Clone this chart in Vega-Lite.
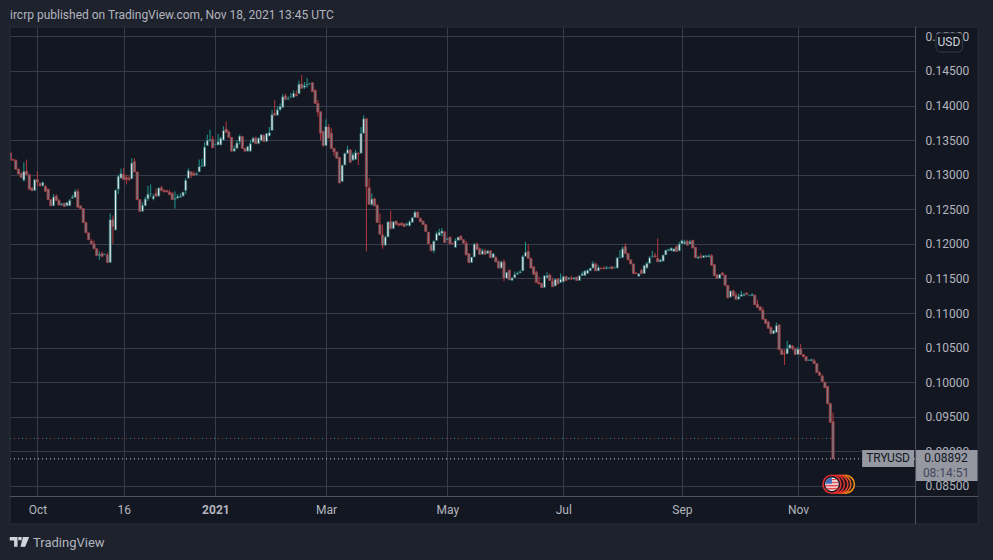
{
  "$schema": "https://vega.github.io/schema/vega-lite/v6.json",
  "width": 905,
  "height": 469,
  "autosize": "none",
  "padding": {"left": 10, "top": 27, "right": 78, "bottom": 64},
  "background": "#131722",
  "config": {"view": {"stroke": null}, "font": "Roboto"},
  "datasets": {
    "frame": [
      {"i": -4, "i2": 367, "p": 0.15136, "p2": 0.156},
      {"i": -4, "i2": 367, "p": 0.073, "p2": 0.0795},
      {"i": -4, "i2": 0.85, "p": 0.0795, "p2": 0.15136},
      {"i": 359.8, "i2": 367, "p": 0.0795, "p2": 0.15136}
    ],
    "seps": [
      {"i": 336.6, "i2": 336.6, "p": 0.0795, "p2": 0.15136},
      {"i": 0.85, "i2": 359.8, "p": 0.08348, "p2": 0.08348}
    ],
    "box": [{"i": 0.85, "i2": 359.8, "p": 0.0795, "p2": 0.15136}],
    "prev": [{"i": 0.85, "i2": 306, "p": 0.09186}],
    "last": [{"i": 0.85, "i2": 336.4, "p": 0.08892}],
    "priceboxes": [
      {"i": 316.8, "i2": 336.1, "p": 0.09021, "p2": 0.08775},
      {"i": 336.4, "i2": 359.7, "p": 0.09021, "p2": 0.08572}
    ],
    "events": [
      {"i": 310.6, "p": 0.08525, "event": "a"},
      {"i": 309.3, "p": 0.08525, "event": "b"},
      {"i": 308.2, "p": 0.08525, "event": "c"},
      {"i": 306.9, "p": 0.08525, "event": "d"},
      {"i": 305.6, "p": 0.08525, "event": "e"}
    ],
    "flag": [{"i": 305.6, "p": 0.08525}],
    "candles": [
      {"i":1,"o":0.13315,"h":0.1333,"l":0.1321,"c":0.1321},{"i":2,"o":0.1322,"h":0.1323,"l":0.1321,"c":0.1321},{"i":3,"o":0.1321,"h":0.1322,"l":0.1308,"c":0.1308},{"i":4,"o":0.1308,"h":0.1309,"l":0.1301,"c":0.1301},{"i":5,"o":0.1302,"h":0.1303,"l":0.1296,"c":0.1296},{"i":6,"o":0.1292,"h":0.1318,"l":0.129,"c":0.1305},{"i":7,"o":0.1305,"h":0.1322,"l":0.13,"c":0.13},{"i":8,"o":0.13,"h":0.1301,"l":0.1279,"c":0.1279},{"i":9,"o":0.1281,"h":0.1282,"l":0.1277,"c":0.1277},{"i":10,"o":0.1277,"h":0.1293,"l":0.1277,"c":0.1293},
      {"i":11,"o":0.1293,"h":0.1305,"l":0.1283,"c":0.1289},{"i":12,"o":0.1287,"h":0.1289,"l":0.1283,"c":0.1284},{"i":13,"o":0.1284,"h":0.129,"l":0.1283,"c":0.1289},{"i":14,"o":0.1283,"h":0.1285,"l":0.1276,"c":0.1276},{"i":15,"o":0.1279,"h":0.128,"l":0.1264,"c":0.1264},{"i":16,"o":0.1264,"h":0.1265,"l":0.1255,"c":0.1255},{"i":17,"o":0.1255,"h":0.1272,"l":0.1255,"c":0.1268},{"i":18,"o":0.1269,"h":0.1272,"l":0.1262,"c":0.1263},{"i":19,"o":0.1263,"h":0.1265,"l":0.1256,"c":0.1256},{"i":20,"o":0.1256,"h":0.1259,"l":0.1256,"c":0.1258},
      {"i":21,"o":0.1259,"h":0.1259,"l":0.1254,"c":0.1254},{"i":22,"o":0.1255,"h":0.1261,"l":0.1255,"c":0.126},{"i":23,"o":0.1255,"h":0.1265,"l":0.1255,"c":0.1263},{"i":24,"o":0.1266,"h":0.1271,"l":0.1266,"c":0.1268},{"i":25,"o":0.1267,"h":0.1279,"l":0.1267,"c":0.1276},{"i":26,"o":0.1276,"h":0.128,"l":0.1253,"c":0.1253},{"i":27,"o":0.1255,"h":0.1255,"l":0.1251,"c":0.1251},{"i":28,"o":0.1251,"h":0.1251,"l":0.1231,"c":0.1231},{"i":29,"o":0.1231,"h":0.1232,"l":0.1216,"c":0.1216},{"i":30,"o":0.1216,"h":0.1216,"l":0.1206,"c":0.1206},
      {"i":31,"o":0.1204,"h":0.1207,"l":0.12,"c":0.12},{"i":32,"o":0.12,"h":0.1205,"l":0.1193,"c":0.1193},{"i":33,"o":0.1193,"h":0.1193,"l":0.1183,"c":0.1183},{"i":34,"o":0.1183,"h":0.1189,"l":0.1177,"c":0.1185},{"i":35,"o":0.1186,"h":0.1189,"l":0.1181,"c":0.1182},{"i":36,"o":0.1184,"h":0.1186,"l":0.1184,"c":0.1185},{"i":37,"o":0.1184,"h":0.1187,"l":0.1173,"c":0.1173},{"i":38,"o":0.1173,"h":0.1244,"l":0.1173,"c":0.1235},{"i":39,"o":0.1235,"h":0.1241,"l":0.12,"c":0.1225},{"i":40,"o":0.122,"h":0.1278,"l":0.122,"c":0.1278},
      {"i":41,"o":0.1279,"h":0.13,"l":0.1272,"c":0.1298},{"i":42,"o":0.1295,"h":0.1309,"l":0.1295,"c":0.1302},{"i":43,"o":0.13,"h":0.131,"l":0.1293,"c":0.1293},{"i":44,"o":0.1296,"h":0.13,"l":0.1286,"c":0.1293},{"i":45,"o":0.1295,"h":0.1298,"l":0.1291,"c":0.1293},{"i":46,"o":0.1294,"h":0.1324,"l":0.1294,"c":0.1317},{"i":47,"o":0.1319,"h":0.1324,"l":0.1304,"c":0.1304},{"i":48,"o":0.1304,"h":0.1304,"l":0.1264,"c":0.1264},{"i":49,"o":0.1264,"h":0.1264,"l":0.1247,"c":0.1247},{"i":50,"o":0.1247,"h":0.126,"l":0.1247,"c":0.1256},
      {"i":51,"o":0.1255,"h":0.1268,"l":0.1255,"c":0.1265},{"i":52,"o":0.1265,"h":0.1284,"l":0.1262,"c":0.1272},{"i":53,"o":0.1272,"h":0.1286,"l":0.1268,"c":0.1273},{"i":54,"o":0.1265,"h":0.1272,"l":0.1263,"c":0.1269},{"i":55,"o":0.1273,"h":0.128,"l":0.1269,"c":0.1269},{"i":56,"o":0.1269,"h":0.1281,"l":0.1269,"c":0.1281},{"i":57,"o":0.1281,"h":0.1284,"l":0.1277,"c":0.1277},{"i":58,"o":0.1277,"h":0.1279,"l":0.1275,"c":0.1275},{"i":59,"o":0.1277,"h":0.1278,"l":0.1275,"c":0.1275},{"i":60,"o":0.1275,"h":0.1278,"l":0.1271,"c":0.1271},
      {"i":61,"o":0.1273,"h":0.1275,"l":0.1264,"c":0.1264},{"i":62,"o":0.1264,"h":0.1276,"l":0.1251,"c":0.1266},{"i":63,"o":0.1266,"h":0.1272,"l":0.1266,"c":0.1269},{"i":64,"o":0.1267,"h":0.1273,"l":0.1267,"c":0.1269},{"i":65,"o":0.1269,"h":0.1275,"l":0.1269,"c":0.1275},{"i":66,"o":0.1277,"h":0.1295,"l":0.1272,"c":0.1292},{"i":67,"o":0.1295,"h":0.1309,"l":0.1295,"c":0.1306},{"i":68,"o":0.1304,"h":0.1305,"l":0.1295,"c":0.1299},{"i":69,"o":0.1302,"h":0.1305,"l":0.1299,"c":0.1299},{"i":70,"o":0.13,"h":0.1303,"l":0.13,"c":0.1302},
      {"i":71,"o":0.1304,"h":0.1322,"l":0.1304,"c":0.1312},{"i":72,"o":0.1312,"h":0.1323,"l":0.1312,"c":0.1313},{"i":73,"o":0.1312,"h":0.1347,"l":0.1312,"c":0.134},{"i":74,"o":0.1342,"h":0.1358,"l":0.1342,"c":0.135},{"i":75,"o":0.1349,"h":0.1365,"l":0.1348,"c":0.1351},{"i":76,"o":0.1351,"h":0.1356,"l":0.1339,"c":0.1339},{"i":77,"o":0.1343,"h":0.1345,"l":0.1343,"c":0.1344},{"i":78,"o":0.1343,"h":0.1359,"l":0.1343,"c":0.1348},{"i":79,"o":0.1343,"h":0.1355,"l":0.1343,"c":0.1353},{"i":80,"o":0.135,"h":0.137,"l":0.135,"c":0.1364},
      {"i":81,"o":0.1366,"h":0.1377,"l":0.1361,"c":0.1361},{"i":82,"o":0.1362,"h":0.1364,"l":0.1354,"c":0.1354},{"i":83,"o":0.1354,"h":0.1354,"l":0.1334,"c":0.1334},{"i":84,"o":0.1334,"h":0.1342,"l":0.1334,"c":0.1338},{"i":85,"o":0.1338,"h":0.135,"l":0.1338,"c":0.1346},{"i":86,"o":0.1348,"h":0.1358,"l":0.1344,"c":0.1356},{"i":87,"o":0.1355,"h":0.1356,"l":0.1338,"c":0.1338},{"i":88,"o":0.1338,"h":0.1339,"l":0.1334,"c":0.1334},{"i":89,"o":0.1334,"h":0.1342,"l":0.1334,"c":0.1341},{"i":90,"o":0.1334,"h":0.135,"l":0.1334,"c":0.1345},
      {"i":91,"o":0.1347,"h":0.1355,"l":0.1347,"c":0.1353},{"i":92,"o":0.1353,"h":0.1355,"l":0.1345,"c":0.1345},{"i":93,"o":0.1345,"h":0.1354,"l":0.1344,"c":0.1353},{"i":94,"o":0.1349,"h":0.1358,"l":0.1349,"c":0.1358},{"i":95,"o":0.1357,"h":0.1358,"l":0.1348,"c":0.1348},{"i":96,"o":0.1348,"h":0.136,"l":0.1348,"c":0.136},{"i":97,"o":0.1356,"h":0.1369,"l":0.1356,"c":0.1361},{"i":98,"o":0.1364,"h":0.1394,"l":0.1364,"c":0.1387},{"i":99,"o":0.1389,"h":0.1408,"l":0.1386,"c":0.1386},{"i":100,"o":0.1386,"h":0.1399,"l":0.1386,"c":0.1394},
      {"i":101,"o":0.1394,"h":0.1403,"l":0.1392,"c":0.1399},{"i":102,"o":0.1397,"h":0.1417,"l":0.1397,"c":0.1413},{"i":103,"o":0.1414,"h":0.1417,"l":0.1409,"c":0.1409},{"i":104,"o":0.1409,"h":0.1413,"l":0.1408,"c":0.141},{"i":105,"o":0.1412,"h":0.1418,"l":0.1411,"c":0.1413},{"i":106,"o":0.1412,"h":0.1422,"l":0.1412,"c":0.1418},{"i":107,"o":0.1416,"h":0.1422,"l":0.1414,"c":0.1414},{"i":108,"o":0.1417,"h":0.1436,"l":0.1417,"c":0.1431},{"i":109,"o":0.1431,"h":0.1444,"l":0.1425,"c":0.1425},{"i":110,"o":0.1426,"h":0.1434,"l":0.1424,"c":0.1429},
      {"i":111,"o":0.1429,"h":0.144,"l":0.1426,"c":0.1431},{"i":112,"o":0.1431,"h":0.1433,"l":0.1431,"c":0.1432},{"i":113,"o":0.1433,"h":0.1434,"l":0.142,"c":0.142},{"i":114,"o":0.1422,"h":0.1424,"l":0.1403,"c":0.1403},{"i":115,"o":0.1403,"h":0.1408,"l":0.1384,"c":0.1391},{"i":116,"o":0.1391,"h":0.1391,"l":0.135,"c":0.136},{"i":117,"o":0.1363,"h":0.1363,"l":0.1341,"c":0.1342},{"i":118,"o":0.1342,"h":0.138,"l":0.1342,"c":0.137},{"i":119,"o":0.1369,"h":0.1373,"l":0.1353,"c":0.1353},{"i":120,"o":0.136,"h":0.1367,"l":0.1338,"c":0.1338},
      {"i":121,"o":0.1338,"h":0.1339,"l":0.1327,"c":0.1333},{"i":122,"o":0.1333,"h":0.1333,"l":0.1323,"c":0.1324},{"i":123,"o":0.1325,"h":0.1325,"l":0.1288,"c":0.1288},{"i":124,"o":0.129,"h":0.1314,"l":0.129,"c":0.1314},{"i":125,"o":0.1314,"h":0.1332,"l":0.1314,"c":0.1331},{"i":126,"o":0.1331,"h":0.1342,"l":0.133,"c":0.1336},{"i":127,"o":0.1336,"h":0.1337,"l":0.1318,"c":0.1318},{"i":128,"o":0.1321,"h":0.1332,"l":0.1321,"c":0.1329},{"i":129,"o":0.1322,"h":0.1336,"l":0.1322,"c":0.1332},{"i":130,"o":0.1331,"h":0.1332,"l":0.1314,"c":0.133},
      {"i":131,"o":0.1331,"h":0.1369,"l":0.1331,"c":0.136},{"i":132,"o":0.136,"h":0.1386,"l":0.136,"c":0.1381},{"i":133,"o":0.1381,"h":0.1381,"l":0.1189,"c":0.1283},{"i":134,"o":0.1281,"h":0.1295,"l":0.1257,"c":0.1257},{"i":135,"o":0.1257,"h":0.1273,"l":0.1255,"c":0.1265},{"i":136,"o":0.1265,"h":0.1267,"l":0.1255,"c":0.1255},{"i":137,"o":0.1256,"h":0.1257,"l":0.1231,"c":0.1231},{"i":138,"o":0.1228,"h":0.1244,"l":0.1214,"c":0.1214},{"i":139,"o":0.1213,"h":0.1228,"l":0.1193,"c":0.1198},{"i":140,"o":0.1198,"h":0.1212,"l":0.1198,"c":0.121},
      {"i":141,"o":0.121,"h":0.1232,"l":0.121,"c":0.1232},{"i":142,"o":0.1232,"h":0.1248,"l":0.1222,"c":0.1222},{"i":143,"o":0.1222,"h":0.1233,"l":0.1222,"c":0.1232},{"i":144,"o":0.1233,"h":0.1233,"l":0.1228,"c":0.1228},{"i":145,"o":0.1229,"h":0.123,"l":0.1225,"c":0.1227},{"i":146,"o":0.123,"h":0.1231,"l":0.1227,"c":0.1227},{"i":147,"o":0.1229,"h":0.1229,"l":0.1225,"c":0.1225},{"i":148,"o":0.1227,"h":0.1231,"l":0.1227,"c":0.1229},{"i":149,"o":0.1226,"h":0.1234,"l":0.1226,"c":0.1232},{"i":150,"o":0.1231,"h":0.1239,"l":0.1231,"c":0.1238},
      {"i":151,"o":0.1238,"h":0.1248,"l":0.1238,"c":0.1246},{"i":152,"o":0.1246,"h":0.1247,"l":0.1238,"c":0.1238},{"i":153,"o":0.1237,"h":0.1238,"l":0.1232,"c":0.1232},{"i":154,"o":0.1233,"h":0.1233,"l":0.1228,"c":0.1228},{"i":155,"o":0.1228,"h":0.1228,"l":0.1218,"c":0.1218},{"i":156,"o":0.1217,"h":0.1217,"l":0.12,"c":0.12},{"i":157,"o":0.1199,"h":0.1199,"l":0.119,"c":0.119},{"i":158,"o":0.119,"h":0.1205,"l":0.1187,"c":0.1204},{"i":159,"o":0.1205,"h":0.1218,"l":0.1205,"c":0.1215},{"i":160,"o":0.1212,"h":0.1222,"l":0.1212,"c":0.1217},
      {"i":161,"o":0.1215,"h":0.1223,"l":0.1211,"c":0.1219},{"i":162,"o":0.1217,"h":0.1219,"l":0.1202,"c":0.1202},{"i":163,"o":0.1206,"h":0.1208,"l":0.1206,"c":0.1208},{"i":164,"o":0.121,"h":0.121,"l":0.12,"c":0.12},{"i":165,"o":0.1201,"h":0.1201,"l":0.12,"c":0.12},{"i":166,"o":0.1195,"h":0.1208,"l":0.1195,"c":0.1205},{"i":167,"o":0.1205,"h":0.121,"l":0.1205,"c":0.121},{"i":168,"o":0.1211,"h":0.1213,"l":0.1206,"c":0.1206},{"i":169,"o":0.1206,"h":0.1207,"l":0.1201,"c":0.1201},{"i":170,"o":0.1201,"h":0.1204,"l":0.1184,"c":0.1184},
      {"i":171,"o":0.1186,"h":0.1186,"l":0.1173,"c":0.1173},{"i":172,"o":0.1173,"h":0.1181,"l":0.1173,"c":0.1181},{"i":173,"o":0.1181,"h":0.1201,"l":0.1181,"c":0.12},{"i":174,"o":0.12,"h":0.1202,"l":0.1192,"c":0.1192},{"i":175,"o":0.1193,"h":0.1195,"l":0.1185,"c":0.1185},{"i":176,"o":0.1185,"h":0.1193,"l":0.1185,"c":0.119},{"i":177,"o":0.119,"h":0.1193,"l":0.1185,"c":0.1185},{"i":178,"o":0.1186,"h":0.1191,"l":0.1186,"c":0.119},{"i":179,"o":0.119,"h":0.1191,"l":0.118,"c":0.118},{"i":180,"o":0.118,"h":0.1186,"l":0.118,"c":0.1186},
      {"i":181,"o":0.118,"h":0.1183,"l":0.1174,"c":0.1174},{"i":182,"o":0.1175,"h":0.1175,"l":0.1165,"c":0.1165},{"i":183,"o":0.1165,"h":0.1176,"l":0.1165,"c":0.1174},{"i":184,"o":0.1174,"h":0.1178,"l":0.1146,"c":0.1151},{"i":185,"o":0.115,"h":0.1159,"l":0.115,"c":0.1159},{"i":186,"o":0.1162,"h":0.1162,"l":0.1148,"c":0.1148},{"i":187,"o":0.1147,"h":0.1151,"l":0.1147,"c":0.1151},{"i":188,"o":0.1151,"h":0.116,"l":0.1151,"c":0.1156},{"i":189,"o":0.1156,"h":0.116,"l":0.1156,"c":0.1158},{"i":190,"o":0.1158,"h":0.1162,"l":0.1158,"c":0.116},
      {"i":191,"o":0.1161,"h":0.1184,"l":0.1161,"c":0.1182},{"i":192,"o":0.1182,"h":0.1203,"l":0.1182,"c":0.1188},{"i":193,"o":0.1189,"h":0.12,"l":0.1179,"c":0.1179},{"i":194,"o":0.1179,"h":0.118,"l":0.1165,"c":0.1165},{"i":195,"o":0.1167,"h":0.1167,"l":0.1156,"c":0.1156},{"i":196,"o":0.1159,"h":0.1161,"l":0.1144,"c":0.1144},{"i":197,"o":0.1144,"h":0.1153,"l":0.1142,"c":0.1142},{"i":198,"o":0.1143,"h":0.1143,"l":0.1137,"c":0.1137},{"i":199,"o":0.1137,"h":0.1154,"l":0.1137,"c":0.1154},{"i":200,"o":0.1151,"h":0.1159,"l":0.1151,"c":0.1154},
      {"i":201,"o":0.1155,"h":0.1157,"l":0.1147,"c":0.1147},{"i":202,"o":0.1146,"h":0.1151,"l":0.1138,"c":0.1138},{"i":203,"o":0.1139,"h":0.1149,"l":0.1139,"c":0.1149},{"i":204,"o":0.1149,"h":0.1151,"l":0.1142,"c":0.1142},{"i":205,"o":0.1144,"h":0.1157,"l":0.1144,"c":0.1149},{"i":206,"o":0.1145,"h":0.1153,"l":0.1145,"c":0.1153},{"i":207,"o":0.1153,"h":0.1153,"l":0.1147,"c":0.1147},{"i":208,"o":0.1149,"h":0.1152,"l":0.1149,"c":0.1151},{"i":209,"o":0.1151,"h":0.1154,"l":0.1148,"c":0.1149},{"i":210,"o":0.1149,"h":0.1152,"l":0.1149,"c":0.1151},
      {"i":211,"o":0.1152,"h":0.1152,"l":0.1147,"c":0.1147},{"i":212,"o":0.1147,"h":0.1154,"l":0.1147,"c":0.1154},{"i":213,"o":0.1154,"h":0.116,"l":0.1154,"c":0.1157},{"i":214,"o":0.1154,"h":0.1161,"l":0.1154,"c":0.1161},{"i":215,"o":0.1157,"h":0.1163,"l":0.1157,"c":0.1162},{"i":216,"o":0.1161,"h":0.1165,"l":0.1161,"c":0.1165},{"i":217,"o":0.1165,"h":0.1175,"l":0.1165,"c":0.1172},{"i":218,"o":0.1171,"h":0.1173,"l":0.1161,"c":0.1161},{"i":219,"o":0.1161,"h":0.1169,"l":0.1161,"c":0.1166},{"i":220,"o":0.1165,"h":0.1166,"l":0.1164,"c":0.1164},
      {"i":221,"o":0.1165,"h":0.1168,"l":0.1164,"c":0.1164},{"i":222,"o":0.1164,"h":0.1168,"l":0.1164,"c":0.1166},{"i":223,"o":0.1165,"h":0.1166,"l":0.1164,"c":0.1166},{"i":224,"o":0.1167,"h":0.1168,"l":0.1164,"c":0.1164},{"i":225,"o":0.1165,"h":0.1167,"l":0.1165,"c":0.1166},{"i":226,"o":0.1165,"h":0.118,"l":0.1165,"c":0.118},{"i":227,"o":0.118,"h":0.1191,"l":0.118,"c":0.1181},{"i":228,"o":0.118,"h":0.1196,"l":0.118,"c":0.1193},{"i":229,"o":0.1196,"h":0.1201,"l":0.1186,"c":0.1186},{"i":230,"o":0.1186,"h":0.1187,"l":0.1177,"c":0.1177},
      {"i":231,"o":0.1177,"h":0.1177,"l":0.1171,"c":0.1171},{"i":232,"o":0.1171,"h":0.1171,"l":0.1157,"c":0.1157},{"i":233,"o":0.1158,"h":0.1159,"l":0.1157,"c":0.1157},{"i":234,"o":0.1153,"h":0.1157,"l":0.1153,"c":0.1157},{"i":235,"o":0.1162,"h":0.1164,"l":0.1157,"c":0.1157},{"i":236,"o":0.1157,"h":0.1169,"l":0.1157,"c":0.1169},{"i":237,"o":0.1165,"h":0.1174,"l":0.1165,"c":0.1172},{"i":238,"o":0.1172,"h":0.1182,"l":0.1172,"c":0.118},{"i":239,"o":0.1181,"h":0.119,"l":0.118,"c":0.1182},{"i":240,"o":0.1183,"h":0.1187,"l":0.1181,"c":0.1181},
      {"i":241,"o":0.1179,"h":0.1208,"l":0.1174,"c":0.1174},{"i":242,"o":0.1174,"h":0.1178,"l":0.1174,"c":0.1177},{"i":243,"o":0.1175,"h":0.1184,"l":0.1175,"c":0.1184},{"i":244,"o":0.1184,"h":0.1191,"l":0.1184,"c":0.1191},{"i":245,"o":0.119,"h":0.1193,"l":0.119,"c":0.1192},{"i":246,"o":0.119,"h":0.1195,"l":0.119,"c":0.1194},{"i":247,"o":0.1189,"h":0.1193,"l":0.1189,"c":0.1193},{"i":248,"o":0.1196,"h":0.1198,"l":0.1189,"c":0.1189},{"i":249,"o":0.119,"h":0.1203,"l":0.119,"c":0.12},{"i":250,"o":0.12,"h":0.1206,"l":0.12,"c":0.1205},
      {"i":251,"o":0.12,"h":0.1206,"l":0.12,"c":0.1203},{"i":252,"o":0.1204,"h":0.1206,"l":0.1198,"c":0.1198},{"i":253,"o":0.12,"h":0.1206,"l":0.12,"c":0.1203},{"i":254,"o":0.1205,"h":0.1205,"l":0.1194,"c":0.1194},{"i":255,"o":0.1195,"h":0.1195,"l":0.118,"c":0.118},{"i":256,"o":0.1179,"h":0.1183,"l":0.1178,"c":0.1181},{"i":257,"o":0.1182,"h":0.1186,"l":0.118,"c":0.118},{"i":258,"o":0.118,"h":0.1183,"l":0.118,"c":0.1183},{"i":259,"o":0.1181,"h":0.1184,"l":0.1181,"c":0.1183},{"i":260,"o":0.1181,"h":0.1185,"l":0.1181,"c":0.1183},
      {"i":261,"o":0.1183,"h":0.1185,"l":0.1169,"c":0.1169},{"i":262,"o":0.117,"h":0.117,"l":0.1154,"c":0.1154},{"i":263,"o":0.1155,"h":0.1157,"l":0.115,"c":0.115},{"i":264,"o":0.115,"h":0.1156,"l":0.115,"c":0.1156},{"i":265,"o":0.1158,"h":0.1159,"l":0.1155,"c":0.1155},{"i":266,"o":0.1155,"h":0.1155,"l":0.114,"c":0.114},{"i":267,"o":0.114,"h":0.114,"l":0.1122,"c":0.1122},{"i":268,"o":0.1123,"h":0.1132,"l":0.1123,"c":0.1132},{"i":269,"o":0.1132,"h":0.1134,"l":0.1125,"c":0.1125},{"i":270,"o":0.1126,"h":0.113,"l":0.112,"c":0.112},
      {"i":271,"o":0.112,"h":0.1128,"l":0.112,"c":0.1124},{"i":272,"o":0.1124,"h":0.1132,"l":0.1124,"c":0.1127},{"i":273,"o":0.1125,"h":0.1129,"l":0.1125,"c":0.1127},{"i":274,"o":0.1129,"h":0.113,"l":0.1127,"c":0.1127},{"i":275,"o":0.1125,"h":0.1126,"l":0.1125,"c":0.1126},{"i":276,"o":0.1125,"h":0.1129,"l":0.1125,"c":0.1127},{"i":277,"o":0.1126,"h":0.1126,"l":0.1112,"c":0.1112},{"i":278,"o":0.1113,"h":0.1119,"l":0.1108,"c":0.1108},{"i":279,"o":0.1109,"h":0.111,"l":0.1104,"c":0.1104},{"i":280,"o":0.1104,"h":0.1108,"l":0.1091,"c":0.1091},
      {"i":281,"o":0.1091,"h":0.1092,"l":0.1085,"c":0.1085},{"i":282,"o":0.1087,"h":0.1089,"l":0.1078,"c":0.1078},{"i":283,"o":0.1079,"h":0.1081,"l":0.107,"c":0.107},{"i":284,"o":0.107,"h":0.1075,"l":0.107,"c":0.1075},{"i":285,"o":0.1072,"h":0.1086,"l":0.1072,"c":0.1082},{"i":286,"o":0.1083,"h":0.1083,"l":0.1047,"c":0.1047},{"i":287,"o":0.1047,"h":0.1048,"l":0.104,"c":0.104},{"i":288,"o":0.1042,"h":0.1047,"l":0.1025,"c":0.1041},{"i":289,"o":0.1041,"h":0.106,"l":0.1041,"c":0.1049},{"i":290,"o":0.1049,"h":0.1055,"l":0.1049,"c":0.1054},
      {"i":291,"o":0.1052,"h":0.1054,"l":0.1046,"c":0.1049},{"i":292,"o":0.1049,"h":0.1049,"l":0.104,"c":0.104},{"i":293,"o":0.104,"h":0.1051,"l":0.104,"c":0.1048},{"i":294,"o":0.1048,"h":0.1055,"l":0.104,"c":0.104},{"i":295,"o":0.104,"h":0.104,"l":0.1036,"c":0.1037},{"i":296,"o":0.1037,"h":0.1037,"l":0.1031,"c":0.1031},{"i":297,"o":0.1031,"h":0.1033,"l":0.1031,"c":0.1032},{"i":298,"o":0.1031,"h":0.1034,"l":0.1031,"c":0.1033},{"i":299,"o":0.1031,"h":0.1034,"l":0.1027,"c":0.1027},{"i":300,"o":0.1027,"h":0.1027,"l":0.1014,"c":0.1014},
      {"i":301,"o":0.1014,"h":0.1016,"l":0.101,"c":0.101},{"i":302,"o":0.1009,"h":0.1011,"l":0.1001,"c":0.1001},{"i":303,"o":0.1,"h":0.1001,"l":0.0992,"c":0.0992},{"i":304,"o":0.0994,"h":0.0994,"l":0.0969,"c":0.0969},{"i":305,"o":0.0969,"h":0.097,"l":0.0942,"c":0.0942},{"i":306,"o":0.0943,"h":0.0956,"l":0.08892,"c":0.08892}
    ]
  },
  "layer": [
    {
      "data": {"name": "prev"},
      "mark": {"type": "rule", "color": "#b2393c", "strokeDash": [1, 3], "strokeWidth": 1},
      "encoding": {
        "x": {
          "field": "i", "type": "quantitative", "title": null,
          "scale": {"domain": [0.85, 336.4], "nice": false, "zero": false, "padding": 0},
          "axis": {
            "values": [11, 43, 77, 118, 163, 206, 250, 293],
            "tickCount": 20,
            "labelExpr": "['Oct','16','2021','Mar','May','Jul','Sep','Nov'][indexof([11,43,77,118,163,206,250,293],datum.value)]",
            "labelFontWeight": {"expr": "datum.value == 77 ? 'bold' : 'normal'"},
            "labelColor": "#b2b5be", "labelFontSize": 12, "labelFont": "Roboto", "labelPadding": 8,
            "ticks": false, "domain": false, "labelOverlap": false, "labelFlush": false,
            "grid": true, "gridColor": "#363c4e", "gridWidth": 1
          }
        },
        "x2": {"field": "i2"},
        "y": {
          "field": "p", "type": "quantitative", "title": null,
          "scale": {"domain": [0.08355, 0.15136], "nice": false, "zero": false, "padding": 0},
          "axis": {
            "orient": "right",
            "values": [0.085, 0.09, 0.095, 0.1, 0.105, 0.11, 0.115, 0.12, 0.125, 0.13, 0.135, 0.14, 0.145, 0.15],
            "tickCount": 20,
            "format": ".5f",
            "labelColor": "#b2b5be", "labelFontSize": 12, "labelFont": "Roboto", "labelPadding": 10,
            "ticks": false, "domain": false, "labelOverlap": false, "labelFlush": false,
            "grid": true, "gridColor": "#363c4e", "gridWidth": 1
          }
        }
      }
    },
    {
      "data": {"name": "prev"},
      "mark": {"type": "rule", "color": "#26a69a", "strokeDash": [1, 11], "strokeWidth": 1},
      "encoding": {
        "x": {"field": "i", "type": "quantitative"},
        "x2": {"field": "i2"},
        "y": {"field": "p", "type": "quantitative"}
      }
    },
    {
      "data": {"name": "last"},
      "mark": {"type": "rule", "color": "#d1d4dc", "strokeDash": [1, 3], "strokeWidth": 1},
      "encoding": {
        "x": {"field": "i", "type": "quantitative"},
        "x2": {"field": "i2"},
        "y": {"field": "p", "type": "quantitative"}
      }
    },
    {
      "data": {"name": "candles"},
      "mark": {"type": "rule", "strokeWidth": 1},
      "encoding": {
        "x": {"field": "i", "type": "quantitative"},
        "y": {"field": "l", "type": "quantitative"},
        "y2": {"field": "h"},
        "color": {"condition": {"test": "datum.c >= datum.o", "value": "#1f9c92"}, "value": "#b2393c"}
      }
    },
    {
      "data": {"name": "candles"},
      "mark": {"type": "bar", "orient": "vertical", "size": 2.2, "strokeWidth": 0.8},
      "encoding": {
        "x": {"field": "i", "type": "quantitative"},
        "y": {"field": "o", "type": "quantitative"},
        "y2": {"field": "c"},
        "fill": {"condition": {"test": "datum.c >= datum.o", "value": "#e8eaed"}, "value": "#787b86"},
        "stroke": {"condition": {"test": "datum.c >= datum.o", "value": "#14585a"}, "value": "#a83a3c"}
      }
    },
    {
      "data": {"name": "events"},
      "mark": {"type": "circle", "size": 324, "opacity": 1, "fill": "#131722", "strokeWidth": 1.5},
      "encoding": {
        "x": {"field": "i", "type": "quantitative"},
        "y": {"field": "p", "type": "quantitative"},
        "stroke": {"field": "event", "type": "nominal", "legend": null, "scale": {"domain": ["a", "b", "c", "d", "e"], "range": ["#f5920f", "#f0641e", "#ea3e2a", "#e2302e", "#e2302e"]}}
      }
    },
    {
      "data": {"name": "flag"},
      "mark": {"type": "circle", "size": 180, "opacity": 1, "color": "#f4f4f6"},
      "encoding": {
        "x": {"field": "i", "type": "quantitative"},
        "y": {"field": "p", "type": "quantitative"}
      }
    },
    {
      "data": {"name": "flag"},
      "mark": {"type": "point", "filled": true, "opacity": 1, "size": 180, "color": "#e0484a", "shape": "M-0.98 0.08H0.98V0.32H-0.98Z M-0.82 0.54H0.82V0.78H-0.82Z M0 -0.38H0.92V-0.14H0Z M0 -0.8H0.62V-0.58H0Z"},
      "encoding": {
        "x": {"field": "i", "type": "quantitative"},
        "y": {"field": "p", "type": "quantitative"}
      }
    },
    {
      "data": {"name": "flag"},
      "mark": {"type": "point", "filled": true, "opacity": 1, "size": 180, "color": "#3f6ab5", "shape": "M-0.98 -0.08H0V-0.98A0.98 0.98 0 0 0 -0.98 -0.08Z"},
      "encoding": {
        "x": {"field": "i", "type": "quantitative"},
        "y": {"field": "p", "type": "quantitative"}
      }
    },
    {
      "data": {"name": "priceboxes"},
      "mark": {"type": "rect", "fill": "#9598a1"},
      "encoding": {
        "x": {"field": "i", "type": "quantitative"},
        "x2": {"field": "i2"},
        "y": {"field": "p", "type": "quantitative"},
        "y2": {"field": "p2"}
      }
    },
    {
      "data": {"name": "frame"},
      "mark": {"type": "rect", "fill": "#1e222d"},
      "encoding": {
        "x": {"field": "i", "type": "quantitative"},
        "x2": {"field": "i2"},
        "y": {"field": "p", "type": "quantitative"},
        "y2": {"field": "p2"}
      }
    },
    {
      "data": {"name": "box"},
      "mark": {"type": "rect", "fill": null, "stroke": "#2a2e39", "strokeWidth": 1},
      "encoding": {
        "x": {"field": "i", "type": "quantitative"},
        "x2": {"field": "i2"},
        "y": {"field": "p", "type": "quantitative"},
        "y2": {"field": "p2"}
      }
    },
    {
      "data": {"name": "seps"},
      "mark": {"type": "rect", "fill": null, "stroke": "#50535e", "strokeWidth": 1},
      "encoding": {
        "x": {"field": "i", "type": "quantitative"},
        "x2": {"field": "i2"},
        "y": {"field": "p", "type": "quantitative"},
        "y2": {"field": "p2"}
      }
    },
    {
      "data": {"values": [{"i": 344.2, "i2": 354, "p": 0.15049, "p2": 0.14774}]},
      "mark": {"type": "rect", "fill": "#131722", "stroke": "#363a45", "strokeWidth": 1, "cornerRadius": 4},
      "encoding": {
        "x": {"field": "i", "type": "quantitative"},
        "x2": {"field": "i2"},
        "y": {"field": "p", "type": "quantitative"},
        "y2": {"field": "p2"}
      }
    },
    {
      "data": {"values": [{"i": 349, "p": 0.14916, "label": "USD"}]},
      "mark": {"type": "text", "align": "center", "baseline": "middle", "color": "#d1d4dc", "font": "Roboto", "fontSize": 12},
      "encoding": {
        "x": {"field": "i", "type": "quantitative"},
        "y": {"field": "p", "type": "quantitative"},
        "text": {"field": "label"}
      }
    },
    {
      "data": {"values": [{"i": 326.4, "p": 0.08898, "label": "TRYUSD"}, {"i": 347.9, "p": 0.08898, "label": "0.08892"}]},
      "mark": {"type": "text", "align": "center", "baseline": "middle", "color": "#131722", "font": "Roboto", "fontSize": 12},
      "encoding": {
        "x": {"field": "i", "type": "quantitative"},
        "y": {"field": "p", "type": "quantitative"},
        "text": {"field": "label"}
      }
    },
    {
      "data": {"values": [{"i": 347.9, "p": 0.08688, "label": "08:14:51"}]},
      "mark": {"type": "text", "align": "center", "baseline": "middle", "color": "#43465a", "font": "Roboto", "fontSize": 12},
      "encoding": {
        "x": {"field": "i", "type": "quantitative"},
        "y": {"field": "p", "type": "quantitative"},
        "text": {"field": "label"}
      }
    },
    {
      "data": {"values": [{"i": 0.85, "p": 0.1531, "label": "ircrp published on TradingView.com, Nov 18, 2021 13:45 UTC"}]},
      "mark": {"type": "text", "align": "left", "baseline": "middle", "color": "#b2b5be", "font": "Roboto", "fontSize": 12},
      "encoding": {
        "x": {"field": "i", "type": "quantitative"},
        "y": {"field": "p", "type": "quantitative"},
        "text": {"field": "label"}
      }
    },
    {
      "data": {"values": [{"i": 9.38, "p": 0.07676, "label": "TradingView"}]},
      "mark": {"type": "text", "align": "left", "baseline": "middle", "color": "#b2b5be", "font": "Roboto", "fontSize": 13},
      "encoding": {
        "x": {"field": "i", "type": "quantitative"},
        "y": {"field": "p", "type": "quantitative"},
        "text": {"field": "label"}
      }
    },
    {
      "data": {"values": [{"i": 4.37, "p": 0.0769}]},
      "mark": {"type": "point", "filled": true, "opacity": 1, "size": 380, "color": "#d1d4dc", "shape": "M-1 -0.5H-0.2V0.5H-0.55V-0.15H-1Z M-0.12 -0.5H0.22V-0.18H-0.12Z M0.35 -0.5H1L0.58 0.5H0.1Z"},
      "encoding": {
        "x": {"field": "i", "type": "quantitative"},
        "y": {"field": "p", "type": "quantitative"}
      }
    }
  ]
}
